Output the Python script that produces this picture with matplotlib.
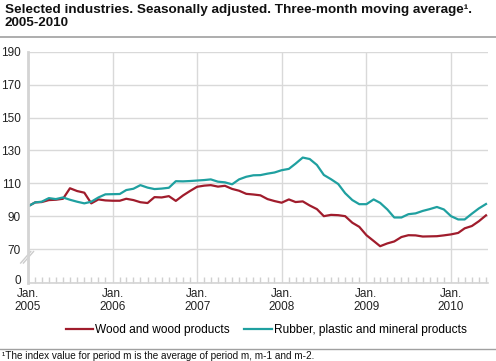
import matplotlib
matplotlib.use("Agg")
import matplotlib.pyplot as plt
import matplotlib.dates as mdates
import matplotlib.transforms as mtransforms
from matplotlib.lines import Line2D
import pandas as pd

plt.rcParams["font.family"] = ["Liberation Sans", "DejaVu Sans"]

# monthly index values, Jan 2005 - Jun 2010
months = pd.date_range("2005-01-01", "2010-06-01", freq="MS")

wood = [
    96.0, 98.4, 98.6, 99.8, 100.0, 100.6, 107.0, 105.3, 104.3, 97.8, 100.2, 99.6,
    99.4, 99.4, 100.6, 99.8, 98.5, 98.0, 101.6, 101.4, 102.2, 99.3, 102.6, 105.3,
    107.9, 108.6, 108.9, 108.0, 108.5, 106.6, 105.5, 103.6, 103.2, 102.7, 100.4, 99.2,
    98.2, 100.2, 98.6, 99.0, 96.5, 94.3, 90.0, 90.8, 90.6, 90.0, 86.0, 83.5,
    78.4, 74.9, 71.7, 73.4, 74.6, 77.3, 78.4, 78.3, 77.6, 77.7, 77.8, 78.3,
    78.9, 79.8, 82.6, 84.0, 86.9, 90.5,
]
rubber = [
    96.0, 98.4, 98.8, 101.0, 100.4, 101.4, 100.0, 98.8, 97.8, 98.8, 101.4, 103.3,
    103.4, 103.5, 105.9, 106.7, 108.9, 107.4, 106.5, 106.8, 107.3, 111.3, 111.2, 111.4,
    111.7, 112.0, 112.4, 111.0, 110.6, 109.4, 112.4, 114.0, 114.9, 115.0, 115.9, 116.6,
    118.0, 118.8, 122.0, 125.7, 124.8, 121.2, 115.1, 112.5, 109.6, 104.0, 99.8, 97.3,
    97.3, 100.2, 98.1, 94.1, 89.2, 89.2, 91.2, 91.7, 93.2, 94.3, 95.6, 94.1,
    90.0, 88.0, 88.0, 91.5, 94.7, 97.4,
]

series_labels = ["Wood and wood products", "Rubber, plastic and mineral products"]
series_colors = ["#a01c2c", "#1fa0a0"]

# broken y axis: the bottom "0" sits where 50 would be
y_ticks = [49.5, 70, 90, 110, 130, 150, 170, 190]
y_tick_labels = ["0", "70", "90", "110", "130", "150", "170", "190"]

title = ("Selected industries. Seasonally adjusted. Three-month moving average\u00b9.\n"
         "2005-2010")
footnote = "\u00b9The index value for period m is the average of period m, m-1 and m-2."

fig = plt.figure(figsize=(4.96, 3.61), dpi=100)
ax = fig.add_axes([0.0565, 0.217, 0.928, 0.639])

ax.plot(months, wood, color=series_colors[0], lw=1.6, label=series_labels[0])
ax.plot(months, rubber, color=series_colors[1], lw=1.6, label=series_labels[1])

ax.set_ylim(49.5, 190)
ax.set_xlim(pd.Timestamp("2005-01-01"), pd.Timestamp("2010-06-11"))
ax.set_yticks(y_ticks)
ax.set_yticklabels(y_tick_labels)

ax.xaxis.set_major_locator(mdates.YearLocator())
ax.xaxis.set_major_formatter(mdates.DateFormatter("Jan.\n%Y"))
ax.xaxis.set_minor_locator(mdates.MonthLocator())

grid_c = "#d9d9d9"
ax.grid(True, which="major", color=grid_c, lw=1.0)
ax.set_axisbelow(True)
for s in ["top", "right"]:
    ax.spines[s].set_visible(False)
ax.spines["left"].set_color("#d4d4d4")
ax.spines["left"].set_linewidth(2.0)
ax.spines["bottom"].set_color("#d4d4d4")
ax.spines["bottom"].set_linewidth(1.2)

ax.tick_params(axis="y", length=0, pad=5, labelsize=8.5, colors="#222222")
ax.tick_params(axis="x", which="major", length=0, pad=4, labelsize=8.5, colors="#222222")
ax.tick_params(axis="x", which="minor", direction="in", length=4, width=1,
               color="#d0d0d0")
for lab in ax.get_xticklabels():
    lab.set_linespacing(1.05)

# lift the "0" label a touch so it clears "Jan."
zero_lab = ax.get_yticklabels()[0]
zero_lab.set_transform(zero_lab.get_transform()
                       + mtransforms.ScaledTranslation(0, 2.5 / 72, fig.dpi_scale_trans))

# axis break marks
for dx in (0.0, 0.006):
    ax.plot([-0.016 + dx, 0.006 + dx], [0.085, 0.135], transform=ax.transAxes,
            color="#cccccc", lw=1.0, clip_on=False)

fig.text(0.01, 0.99, title, fontsize=9.7, fontweight="bold", va="top", ha="left",
         linespacing=1.2, color="#111111")
fig.add_artist(Line2D([0, 1], [0.897, 0.897], color="#a0a0a0", lw=1.2))

fig.legend(loc="center", bbox_to_anchor=(0.537, 0.085), ncol=2, frameon=False,
           fontsize=8.6, handlelength=2.3, handletextpad=0.2, columnspacing=1.2)

fig.add_artist(Line2D([0, 1], [0.033, 0.033], color="#a0a0a0", lw=1.0))
fig.text(0.005, 0.0, footnote, fontsize=7.2, va="bottom", ha="left", color="#111111")

fig.savefig("out.png", dpi=100)
